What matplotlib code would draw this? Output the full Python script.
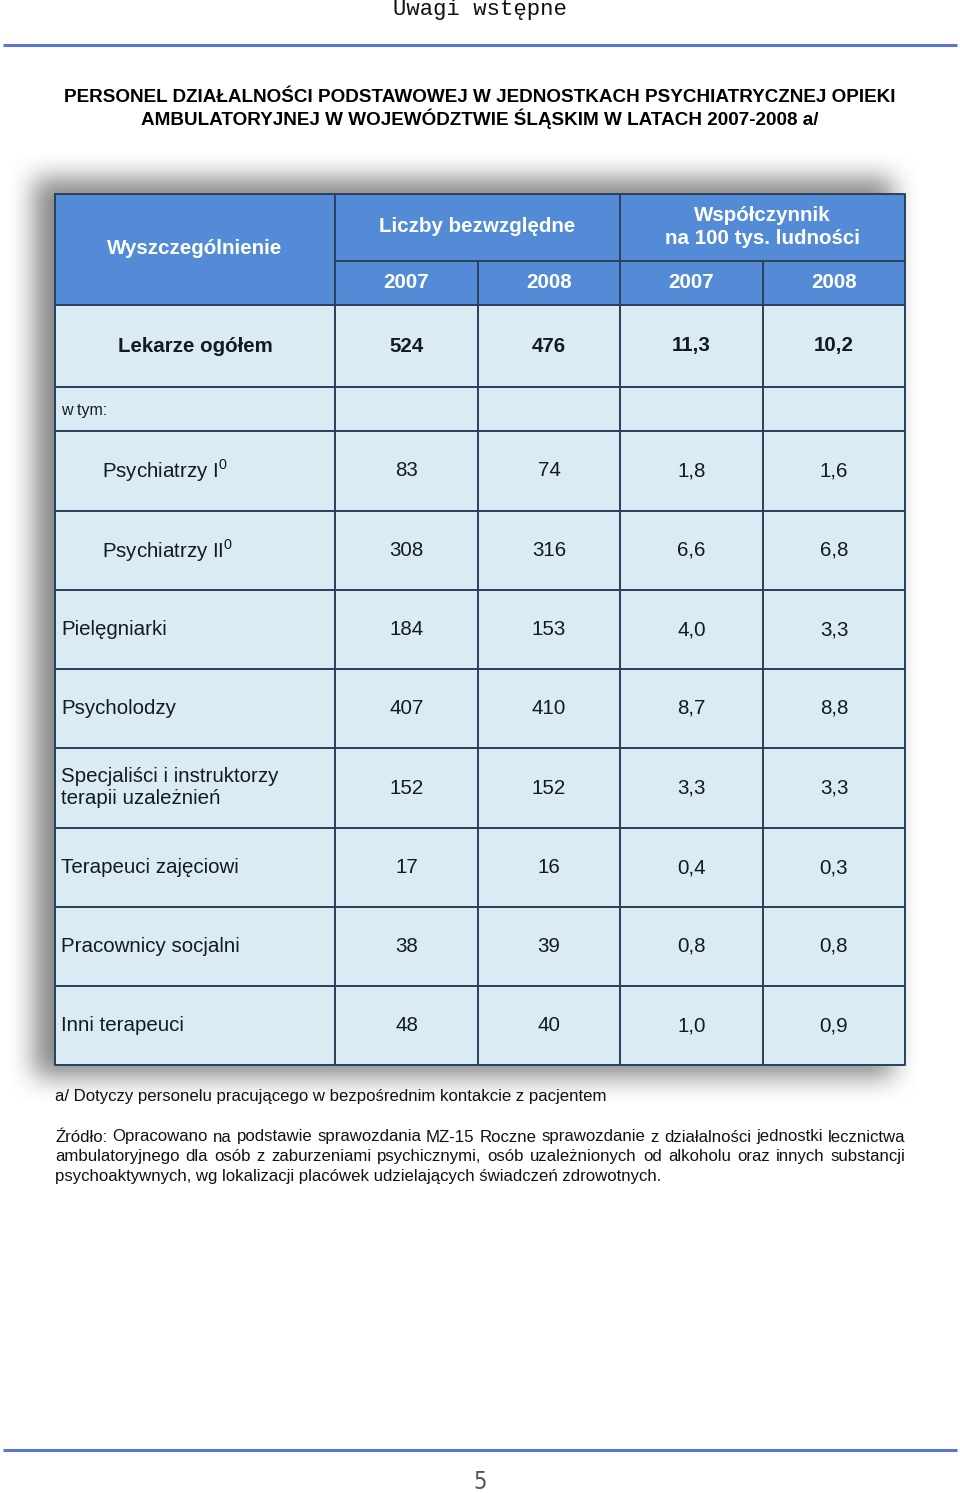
import numpy as np
import matplotlib
matplotlib.use("Agg")
import matplotlib.pyplot as plt
from matplotlib.patches import Rectangle

plt.rcParams['font.family'] = ['Liberation Sans', 'DejaVu Sans']
plt.rcParams['mathtext.fontset'] = 'custom'
plt.rcParams['mathtext.rm'] = 'Liberation Sans'

# ---- data ----
page_header = "Uwagi wstępne"
title_lines = ["PERSONEL DZIAŁALNOŚCI PODSTAWOWEJ W JEDNOSTKACH PSYCHIATRYCZNEJ OPIEKI",
               "AMBULATORYJNEJ W WOJEWÓDZTWIE ŚLĄSKIM W LATACH 2007-2008 a/"]
col_group_labels = ["Liczby bezwzględne", "Współczynnik\nna 100 tys. ludności"]
first_col_label = "Wyszczególnienie"
years = ["2007", "2008", "2007", "2008"]

row_labels = ["Lekarze ogółem", "w tym:", "Psychiatrzy I$^{\\mathregular{0}}$",
              "Psychiatrzy II$^{\\mathregular{0}}$", "Pielęgniarki", "Psycholodzy",
              "Specjaliści i instruktorzy\nterapii uzależnień", "Terapeuci zajęciowi",
              "Pracownicy socjalni", "Inni terapeuci"]
abs_2007 = [524, None, 83, 308, 184, 407, 152, 17, 38, 48]
abs_2008 = [476, None, 74, 316, 153, 410, 152, 16, 39, 40]
rate_2007 = [11.3, None, 1.8, 6.6, 4.0, 8.7, 3.3, 0.4, 0.8, 1.0]
rate_2008 = [10.2, None, 1.6, 6.8, 3.3, 8.8, 3.3, 0.3, 0.8, 0.9]

footnote = "a/ Dotyczy personelu pracującego w bezpośrednim kontakcie z pacjentem"
source_lines = ["Źródło: Opracowano na podstawie sprawozdania MZ-15 Roczne sprawozdanie z działalności jednostki lecznictwa",
                "ambulatoryjnego dla osób z zaburzeniami psychicznymi, osób uzależnionych od alkoholu oraz innych substancji",
                "psychoaktywnych, wg lokalizacji placówek udzielających świadczeń zdrowotnych."]
page_number = "5"

# ---- layout (pixels) ----
W, H = 960, 1493
fig = plt.figure(figsize=(W / 100, H / 100), dpi=100)
ax = fig.add_axes([0, 0, 1, 1])
ax.set_xlim(0, W)
ax.set_ylim(H, 0)
ax.axis('off')

col_x = [55, 335, 478, 620, 763, 905]
head_top, head_mid, head_bot = 194, 261, 305
row_edges = [305, 387, 431, 511, 590, 669, 748, 828, 907, 986, 1065]

header_fill = '#538bd6'
body_fill = '#dbebf3'
line_col = '#2b3f5c'
text_col = '#111a28'

# page header and rules
ax.text(480, 9, page_header, family='Liberation Mono', fontsize=16, ha='center', va='center', color='#111111')
ax.plot([3, 957], [45, 45], color='#5a76cf', lw=2.2, solid_capstyle='butt')
ax.plot([3, 957], [1450, 1450], color='#5a76cf', lw=2.2, solid_capstyle='butt')
ax.text(480, 1482, page_number, fontsize=17, ha='center', va='center', color='#555555',
        family=['DejaVu Sans'], fontweight='ultralight', fontstretch='condensed')

# titles
for i, t in enumerate(title_lines):
    ax.text(480, 97 + i * 21.5, t, fontsize=13.6, fontweight='bold', ha='center', va='center', color='#000000')

# shadow (blurred image)
sh = np.zeros((H, W))
sh[178:1077, 34:893] = 1.0
k = 14
ker = np.ones(2 * k + 1) / (2 * k + 1)
for _ in range(2):
    sh = np.apply_along_axis(lambda r: np.convolve(r, ker, mode='same'), 1, sh)
    sh = np.apply_along_axis(lambda c: np.convolve(c, ker, mode='same'), 0, sh)
rgba = np.zeros((H, W, 4))
rgba[..., :3] = 0.42
rgba[..., 3] = sh * 0.8
ax.imshow(rgba, extent=[0, W, H, 0], zorder=1, interpolation='bilinear')
ax.set_xlim(0, W)
ax.set_ylim(H, 0)

# cells
ax.add_patch(Rectangle((col_x[0], head_top), col_x[-1] - col_x[0], head_bot - head_top,
                       facecolor=header_fill, edgecolor='none', zorder=2))
ax.add_patch(Rectangle((col_x[0], head_bot), col_x[-1] - col_x[0], row_edges[-1] - head_bot,
                       facecolor=body_fill, edgecolor='none', zorder=2))

lw = 1.4
ax.plot([col_x[0], col_x[-1], col_x[-1], col_x[0], col_x[0]],
        [head_top, head_top, row_edges[-1], row_edges[-1], head_top], color=line_col, lw=lw, zorder=4)
ax.plot([col_x[1], col_x[1]], [head_top, row_edges[-1]], color=line_col, lw=lw, zorder=4)
ax.plot([col_x[3], col_x[3]], [head_top, row_edges[-1]], color=line_col, lw=lw, zorder=4)
for cx in (col_x[2], col_x[4]):
    ax.plot([cx, cx], [head_mid, row_edges[-1]], color=line_col, lw=lw, zorder=4)
ax.plot([col_x[1], col_x[-1]], [head_mid, head_mid], color=line_col, lw=lw, zorder=4)
for y in row_edges[:-1]:
    ax.plot([col_x[0], col_x[-1]], [y, y], color=line_col, lw=lw, zorder=4)

# header texts
hfs = 14.8
hkw = dict(color='white', fontsize=hfs, ha='center', va='center', fontweight='bold', zorder=5)
ax.text((col_x[0] + col_x[1]) / 2, 249, first_col_label, **hkw)
ax.text((col_x[1] + col_x[3]) / 2, 227, col_group_labels[0], **hkw)
ax.text((col_x[3] + col_x[5]) / 2, 227, col_group_labels[1], linespacing=1.3, **hkw)
for j, yr in enumerate(years):
    ax.text((col_x[j + 1] + col_x[j + 2]) / 2, 283, yr, **hkw)


def fmt_abs(v):
    return "" if v is None else str(v)


def fmt_rate(v):
    return "" if v is None else f"{v:.1f}".replace('.', ',')


cols = [abs_2007, abs_2008, rate_2007, rate_2008]
fmts = [fmt_abs, fmt_abs, fmt_rate, fmt_rate]
bfs = 14.8
for i, lab in enumerate(row_labels):
    yc = (row_edges[i] + row_edges[i + 1]) / 2
    if i == 0:
        ax.text((col_x[0] + col_x[1]) / 2, yc, lab, fontsize=bfs, fontweight='bold', ha='center', va='center',
                color=text_col, zorder=5)
    elif i == 1:
        ax.text(61, yc + 1, lab, fontsize=11.5, ha='left', va='center', color=text_col, zorder=5)
    elif i in (2, 3):
        ax.text(102, yc, lab, fontsize=bfs, ha='left', va='center', color=text_col, zorder=5)
    else:
        ax.text(61, yc, lab, fontsize=bfs, ha='left', va='center', color=text_col, linespacing=1.2, zorder=5)
    for j in range(4):
        s = fmts[j](cols[j][i])
        if s:
            ax.text((col_x[j + 1] + col_x[j + 2]) / 2, yc, s, fontsize=bfs,
                    fontweight='bold' if i == 0 else 'normal', ha='center', va='center', color=text_col, zorder=5)

# footnotes
ffs = 12.1
ax.text(55, 1097, footnote, fontsize=ffs, ha='left', va='center', color='#111111')

renderer = fig.canvas.get_renderer()
x0, x1 = 55, 905
for i, t in enumerate(source_lines):
    yb = 1136 + i * 19.5 + 5.5  # baseline
    if i == len(source_lines) - 1:
        ax.text(x0, yb, t, fontsize=ffs, ha='left', va='baseline', color='#111111')
        continue
    words = t.split(' ')
    widths = []
    for w_ in words:
        tt = ax.text(0, 0, w_, fontsize=ffs)
        bb = tt.get_window_extent(renderer)
        widths.append(bb.width)
        tt.remove()
    gap = (x1 - x0 - sum(widths)) / (len(words) - 1)
    x = x0
    for w_, wd in zip(words, widths):
        ax.text(x, yb, w_, fontsize=ffs, ha='left', va='baseline', color='#111111')
        x += wd + gap

fig.savefig("out.png", dpi=100, facecolor='white')
